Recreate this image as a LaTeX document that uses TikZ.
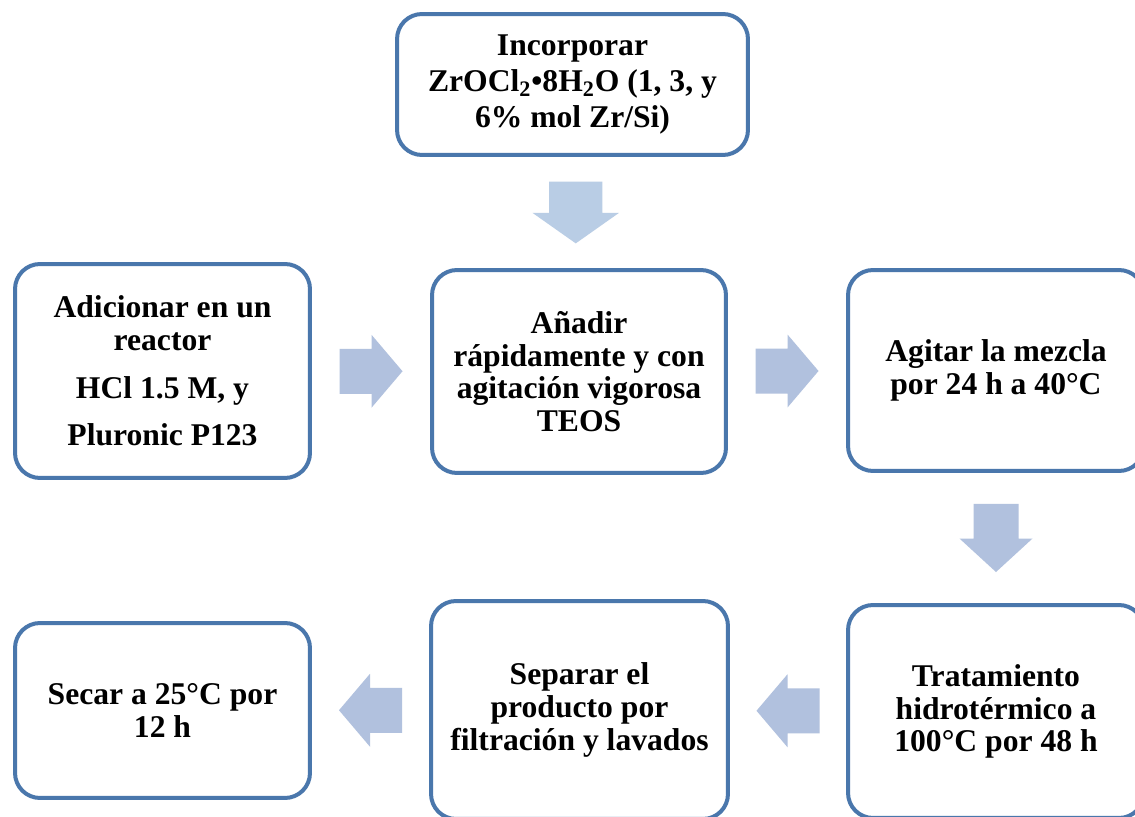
\documentclass[tikz,border=0pt]{standalone}
\usepackage{fontspec}
\setmainfont{Liberation Serif}
\usepackage{tikz}
\usetikzlibrary{calc}
\definecolor{bordeazul}{HTML}{4A77AC}
\definecolor{flechaazul}{HTML}{B1C1DE}
\definecolor{flechaclara}{HTML}{B9CDE5}
\tikzset{paso/.style = {draw = bordeazul, line width = 0.08cm, rounded corners = 0.5cm,
                        fill = white, align = center, inner sep = 0,
                        font = \fontsize{18}{18.6}\selectfont\bfseries}}
\tikzset{flecha/.style = {fill = flechaazul, draw = none}}
\newcommand{\flecha}[4][]{%
  \path (#2) -- (#3) coordinate [pos=0.5] (fm);
  \fill [flecha, shift={(fm)}, rotate=#4, #1] (-31.5, -22.5) -- (0.5, -22.5) -- (0.5, -36.5) -- (31.5, 0)
        -- (0.5, 36.5) -- (0.5, 22.5) -- (-31.5, 22.5) -- cycle;}

\begin{document}
\begin{tikzpicture}[x=0.02cm, y=-0.02cm]
      \clip (0, 0) rectangle (1135, 817);
      \fill [white] (0, 0) rectangle (1135, 817);

      \node [paso, minimum width = 7.02cm, minimum height = 2.82cm] (incorporar) at (572.5, 84.5)
            {Incorporar\\[2pt]ZrOCl\textsubscript{2}•8H\textsubscript{2}O (1, 3, y\\[2pt]6\% mol Zr/Si)};

      \node [paso, minimum width = 5.9cm, minimum height = 4.28cm] (reactor) at (162.5, 371)
            {Adicionar en un\\reactor\\[0.3cm]HCl 1.5 M, y\\[0.3cm]Pluronic P123};
      \node [paso, minimum width = 5.88cm, minimum height = 4.06cm] (anadir) at (579, 371.5)
            {Añadir\\rápidamente y con\\agitación vigorosa\\TEOS};
      \node [paso, minimum width = 5.92cm, minimum height = 4.02cm] (agitar) at (996, 370.5)
            {Agitar la mezcla\\por 24 h a 40°C};

      \node [paso, minimum width = 5.92cm, minimum height = 4.26cm] (tratamiento) at (996, 711.5)
            {Tratamiento\\hidrotérmico a\\100°C por 48 h};
      \node [paso, minimum width = 5.94cm, minimum height = 4.36cm] (separar) at (579.5, 710)
            {Separar el\\producto por\\filtración y lavados};
      \node [paso, minimum width = 5.9cm, minimum height = 3.5cm] (secar) at (162.5, 710.5)
            {Secar a 25°C por\\12 h};

      \flecha[fill = flechaclara, xscale = 0.98, yscale = 1.18]{incorporar.south}{anadir.north}{-90}
      \flecha{reactor.east}{anadir.west}{0}
      \flecha{anadir.east}{agitar.west}{0}
      \flecha[xscale = 1.08]{agitar.south}{tratamiento.north}{-90}
      \flecha{tratamiento.west}{separar.east}{180}
      \flecha{separar.west}{secar.east}{180}

    \end{tikzpicture}
\end{document}
